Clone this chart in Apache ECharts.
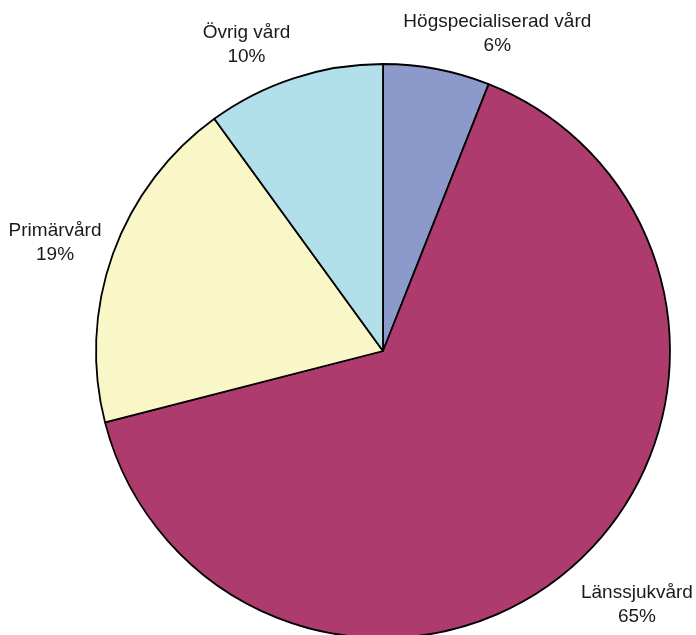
<!DOCTYPE html>
<html>
<head>
<meta charset="utf-8">
<script src="https://cdn.jsdelivr.net/npm/echarts@6/dist/echarts.min.js"></script>
<style>
html,body{margin:0;padding:0;background:#fff;}
#chart{width:696px;height:635px;}
</style>
</head>
<body>
<div id="chart"></div>
<script>
// Data
var categories = ['Högspecialiserad vård', 'Länssjukvård', 'Primärvård', 'Övrig vård'];
var values = [6, 65, 19, 10];

// Styles (kept apart from data)
var colors = ['#8C9ACB', '#AD3B6D', '#F9F7C8', '#B2E0EA'];
var labelShift = [[49, -1], [36, 12], [-20, 1], [-32, 0]];

var chart = echarts.init(document.getElementById('chart'), null, {renderer: 'canvas'});
var seriesData = categories.map(function (c, i) {
  return {name: c, value: values[i], itemStyle: {color: colors[i]}};
});
chart.setOption({
  animation: false,
  backgroundColor: '#ffffff',
  series: [{
    type: 'pie',
    center: [383, 351],
    radius: 287,
    startAngle: 90,
    clockwise: true,
    avoidLabelOverlap: false,
    data: seriesData,
    itemStyle: {borderColor: '#000000', borderWidth: 1.8},
    emphasis: {disabled: true},
    label: {
      show: true,
      position: 'outside',
      alignTo: 'none',
      color: '#1a1a1a',
      fontFamily: 'Liberation Sans, Arial, sans-serif',
      fontSize: 19,
      lineHeight: 24,
      formatter: function (p) { return p.name + '\n' + Math.round(p.percent) + '%'; }
    },
    labelLine: {show: false, length: 35, length2: 0},
    labelLayout: function (p) {
      var s = labelShift[p.dataIndex];
      return {align: 'center', verticalAlign: 'middle', dx: s[0], dy: s[1]};
    }
  }]
});
</script>
</body>
</html>
